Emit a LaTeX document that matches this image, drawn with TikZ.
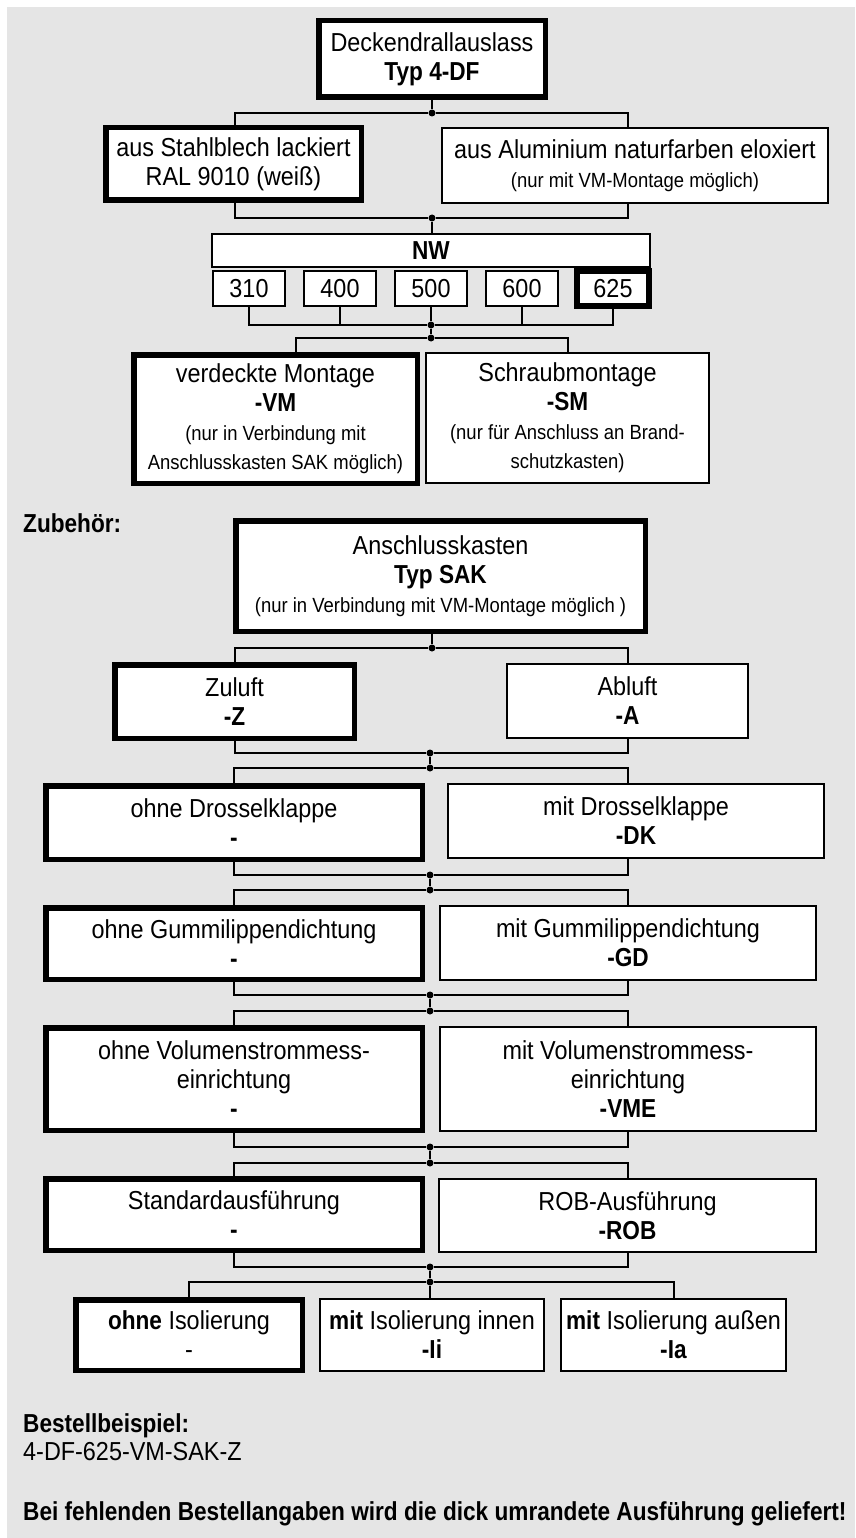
\documentclass[tikz,border=0pt]{standalone}
\usepackage{fontspec}
\setmainfont{Liberation Sans}[FakeStretch=0.9,BoldFeatures={FakeStretch=0.87}]
\usetikzlibrary{positioning}
\newcommand{\klein}{\fontsize{20.5}{26}\selectfont}

\begin{document}
\begin{tikzpicture}[x=1pt,y=-1pt,
  font=\fontsize{26}{29}\selectfont,
  box/.style={draw, fill=white, line width=1.8pt, align=center, inner sep=0pt, outer sep=0pt},
  dickbox/.style={box, line width=5.5pt},
  conn/.style={line width=2pt},
  dot/.style={circle, fill, inner sep=0pt, minimum size=7pt},
  txt/.style={anchor=base west, inner sep=0pt}]
\useasboundingbox (0,0) rectangle (855,1538);
\fill[black!10] (7,7) rectangle (855,1538);

\node[dickbox, minimum width=226.5pt, minimum height=76.5pt] (typ) at (432,59) {Deckendrallauslass\\\textbf{Typ 4-DF}};
\node[dickbox, minimum width=255.5pt, minimum height=72.5pt] (stahl) at (233.5,164) {aus Stahlblech lackiert\\RAL 9010 (weiß)};
\node[box, minimum width=386.4pt, minimum height=75.4pt] (alu) at (635,165.5) {aus Aluminium naturfarben eloxiert\\{\klein (nur mit VM-Montage möglich)}};

\node[box, minimum width=438.4pt, minimum height=33.4pt] (nw) at (431,250.5) {\textbf{NW}};
\node[box, minimum width=72.4pt, minimum height=35.4pt] (n310) at (249,288.5) {310};
\node[box, minimum width=72.4pt, minimum height=35.4pt, right=18.6pt of n310] (n400) {400};
\node[box, minimum width=72.4pt, minimum height=35.4pt, right=18.6pt of n400] (n500) {500};
\node[box, minimum width=72.4pt, minimum height=35.4pt, right=18.6pt of n500] (n600) {600};
\node[dickbox, minimum width=72.4pt, minimum height=35.4pt, right=18.6pt of n600] (n625) {625};

\node[dickbox, minimum width=283.5pt, minimum height=128.5pt] (vm) at (275.5,419) {verdeckte Montage\\\textbf{-VM}\\{\klein (nur in Verbindung mit}\\{\klein Anschlusskasten SAK möglich)}};
\node[box, minimum width=283.4pt, minimum height=130.4pt] (sm) at (567.5,418) {Schraubmontage\\\textbf{-SM}\\{\klein (nur für Anschluss an Brand-}\\{\klein schutzkasten)}};

\node[txt] (zub) at (23,532) {\textbf{Zubehör:}};
\node[dickbox, minimum width=409.5pt, minimum height=110.5pt] (sak) at (440.5,576) {Anschlusskasten\\\textbf{Typ SAK}\\{\klein (nur in Verbindung mit VM-Montage möglich )}};
\node[dickbox, minimum width=239.5pt, minimum height=73.5pt] (zu) at (234.5,701.5) {Zuluft\\\textbf{-Z}};
\node[box, minimum width=241.4pt, minimum height=74.4pt] (ab) at (627.5,701) {Abluft\\\textbf{-A}};
\node[dickbox, minimum width=376.5pt, minimum height=73.5pt] (dko) at (234,822.5) {ohne Drosselklappe\\\textbf{-}};
\node[box, minimum width=376.4pt, minimum height=74.4pt] (dkm) at (636,821) {mit Drosselklappe\\\textbf{-DK}};
\node[dickbox, minimum width=376.5pt, minimum height=71.5pt] (gdo) at (234,943.5) {ohne Gummilippendichtung\\\textbf{-}};
\node[box, minimum width=376.4pt, minimum height=74.4pt] (gdm) at (628,943) {mit Gummilippendichtung\\\textbf{-GD}};
\node[dickbox, minimum width=376.5pt, minimum height=102.5pt] (vmeo) at (234,1079) {ohne Volumenstrommess-\\einrichtung\\\textbf{-}};
\node[box, minimum width=376.4pt, minimum height=104.4pt] (vmem) at (628,1079) {mit Volumenstrommess-\\einrichtung\\\textbf{-VME}};
\node[dickbox, minimum width=376.5pt, minimum height=71.5pt] (std) at (234,1214.5) {Standardausführung\\\textbf{-}};
\node[box, minimum width=377.4pt, minimum height=73.4pt] (rob) at (627.5,1215.5) {ROB-Ausführung\\\textbf{-ROB}};
\node[dickbox, minimum width=226.5pt, minimum height=70.5pt] (iso1) at (189,1335) {\textbf{ohne} Isolierung\\-};
\node[box, minimum width=224.4pt, minimum height=72.4pt] (iso2) at (432,1335) {\textbf{mit} Isolierung innen\\\textbf{-Ii}};
\node[box, minimum width=225.4pt, minimum height=72.4pt] (iso3) at (673.5,1335) {\textbf{mit} Isolierung außen\\\textbf{-Ia}};

\node[txt] (bsp) at (23,1432) {\textbf{Bestellbeispiel:}};
\node[txt] (bspcode) at (23,1460) {4-DF-625-VM-SAK-Z};
\node[txt] (hinweis) at (23,1520) {\textbf{Bei fehlenden Bestellangaben wird die dick umrandete Ausführung geliefert!}};

\node[dot] (j1) at (432,113) {};
\node[dot] (j2) at (432,218) {};
\node[dot] (j3) at (431,325) {};
\node[dot] (j4) at (431,338) {};
\node[dot] (j5) at (432,648) {};
\node[dot] (j6) at (430,753) {};
\node[dot] (j7) at (430,768) {};
\node[dot] (j8) at (430,875) {};
\node[dot] (j9) at (430,890) {};
\node[dot] (j10) at (430,995) {};
\node[dot] (j11) at (430,1011) {};
\node[dot] (j12) at (430,1147) {};
\node[dot] (j13) at (430,1163) {};
\node[dot] (j14) at (430,1267) {};
\node[dot] (j15) at (430,1282) {};

\draw[conn] (typ) -- (j1);
\draw[conn] ([xshift=1.5pt]stahl.north) |- (j1) -| ([xshift=-7pt]alu.north);
\draw[conn] ([xshift=1.5pt]stahl.south) |- (j2) -| ([xshift=-7pt]alu.south);
\draw[conn] (j2) -- (nw.north -| j2);
\draw[conn] (n310.south) |- (j3) -| (n625.south);
\draw[conn] (n400.south) -- (n400.south |- j3);
\draw[conn] (n600.south) -- (n600.south |- j3);
\draw[conn] (n500) -- (j3) -- (j4);
\draw[conn] ([xshift=20.5pt]vm.north) |- (j4) -| (sm.north);
\draw[conn] (sak.south -| j5) -- (j5);
\draw[conn] (zu.north) |- (j5) -| (ab.north);
\draw[conn] (zu.south) |- (j6) -| (ab.south);
\draw[conn] (j6) -- (j7);
\draw[conn] (dko.north) |- (j7) -| ([xshift=-8pt]dkm.north);
\draw[conn] (dko.south) |- (j8) -| ([xshift=-8pt]dkm.south);
\draw[conn] (j8) -- (j9);
\draw[conn] (gdo.north) |- (j9) -| (gdm.north);
\draw[conn] (gdo.south) |- (j10) -| (gdm.south);
\draw[conn] (j10) -- (j11);
\draw[conn] (vmeo.north) |- (j11) -| (vmem.north);
\draw[conn] (vmeo.south) |- (j12) -| (vmem.south);
\draw[conn] (j12) -- (j13);
\draw[conn] (std.north) |- (j13) -| (rob.north);
\draw[conn] (std.south) |- (j14) -| (rob.south);
\draw[conn] (j14) -- (j15);
\draw[conn] (iso1.north) |- (j15) -| (iso3.north);
\draw[conn] (j15) -- (iso2.north -| j15);
\end{tikzpicture}
\end{document}
